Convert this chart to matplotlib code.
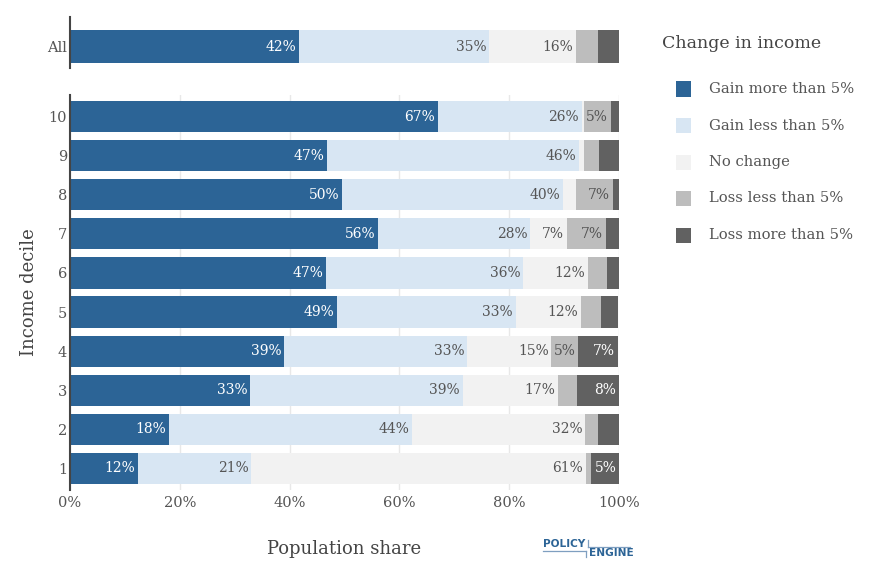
import matplotlib.pyplot as plt
from matplotlib.lines import Line2D
from matplotlib.patches import Rectangle

plt.rcParams['font.family'] = ['DejaVu Serif']

# Share of people in each income change group (%)
categories = ["Gain more than 5%", "Gain less than 5%", "No change",
              "Loss less than 5%", "Loss more than 5%"]
colors = ["#2c6496", "#d8e6f3", "#f2f2f2", "#bdbdbd", "#616161"]
label_colors = ["white", "#555555", "#555555", "#555555", "white"]

deciles = ["1", "2", "3", "4", "5", "6", "7", "8", "9", "10"]
gain_more = [12.4, 18.0, 32.8, 39.0, 48.6, 46.6, 56.1, 49.5, 46.8, 67.0]
gain_less = [20.6, 44.3, 38.7, 33.4, 32.6, 35.9, 27.7, 40.3, 46.0, 26.2]
no_change = [61.0, 31.5, 17.4, 15.3, 11.8, 11.9, 6.7, 2.4, 0.9, 0.4]
loss_less = [0.9, 2.4, 3.4, 4.9, 3.8, 3.4, 7.1, 6.7, 2.7, 4.9]
loss_more = [5.1, 3.8, 7.7, 7.2, 3.1, 2.2, 2.4, 1.1, 3.6, 1.5]

all_values = [41.7, 34.6, 15.9, 4.0, 3.8]

W, H = 887, 587
fig = plt.figure(figsize=(W / 100, H / 100), dpi=100)
ax_all = fig.add_axes([70 / W, 1 - 68 / H, 549 / W, 51 / H])
ax = fig.add_axes([70 / W, 1 - 490 / H, 549 / W, 395 / H])


def draw_stack(axis, ypos, series):
    left = [0.0] * len(ypos)
    for k, vals in enumerate(series):
        axis.barh(ypos, vals, left=left, height=0.8, color=colors[k], zorder=2)
        for i, v in enumerate(vals):
            if round(v) >= 5:
                axis.text(left[i] + v - 0.5, ypos[i], f"{round(v)}%",
                          ha="right", va="center", fontsize=10,
                          color=label_colors[k], zorder=3)
        left = [a + b for a, b in zip(left, vals)]


series = [gain_more, gain_less, no_change, loss_less, loss_more]
draw_stack(ax, list(range(len(deciles))), series)
draw_stack(ax_all, [0], [[v] for v in all_values])

for a in (ax, ax_all):
    a.set_xlim(0, 100)
    for s in ("top", "right", "bottom"):
        a.spines[s].set_visible(False)
    a.spines["left"].set_color("#444444")
    a.spines["left"].set_linewidth(1.5)
    a.tick_params(axis="y", length=0, labelsize=10.5, labelcolor="#555555", pad=2)

ax.set_ylim(-0.55, 9.55)
ax.set_yticks(range(len(deciles)))
ax.set_yticklabels(deciles)
ax.set_xticks([0, 20, 40, 60, 80, 100])
ax.set_xticklabels(["0%", "20%", "40%", "60%", "80%", "100%"])
ax.tick_params(axis="x", length=0, labelsize=10.5, labelcolor="#555555", pad=4)
ax.grid(axis="x", color="#e8e8e8", linewidth=1, zorder=0)
ax.set_axisbelow(True)
ax.set_ylabel("Income decile", fontsize=13, color="#444444", labelpad=8)
ax.set_xlabel("Population share", fontsize=13, color="#444444", labelpad=22)

ax_all.set_ylim(-0.52, 0.72)
ax_all.set_yticks([0])
ax_all.set_yticklabels(["All"])
ax_all.set_xticks([])

# legend, laid out by hand to match the reference spacing
fig.text(662 / W, 1 - 43 / H, "Change in income", fontsize=12.5,
         color="#444444", ha="left", va="center")
for k, name in enumerate(categories):
    yc = 89 + 36.5 * k
    fig.add_artist(Rectangle((676 / W, 1 - (yc + 7.5) / H), 15 / W, 15 / H,
                             facecolor=colors[k], edgecolor="none",
                             transform=fig.transFigure))
    fig.text(709 / W, 1 - yc / H, name, fontsize=10.6, color="#555555",
             ha="left", va="center")

# PolicyEngine logo
logo = "#2c6496"
fig.text(543 / W, 1 - 544 / H, "POLICY", fontsize=7.6, fontweight="bold",
         color=logo, family="DejaVu Sans", ha="left", va="center")
fig.text(589 / W, 1 - 553 / H, "ENGINE", fontsize=7.6, fontweight="bold",
         color=logo, family="DejaVu Sans", ha="left", va="center")
line_kw = dict(color="#7f9fc0", lw=0.9)
fig.add_artist(Line2D([543 / W, 586 / W], [1 - 550.5 / H, 1 - 550.5 / H], **line_kw))
fig.add_artist(Line2D([586 / W, 586 / W], [1 - 550.5 / H, 1 - 557 / H], **line_kw))
fig.add_artist(Line2D([588 / W, 630 / W], [1 - 547 / H, 1 - 547 / H], **line_kw))
fig.add_artist(Line2D([588 / W, 588 / W], [1 - 540 / H, 1 - 547 / H], **line_kw))

fig.savefig("out.png", dpi=100)
